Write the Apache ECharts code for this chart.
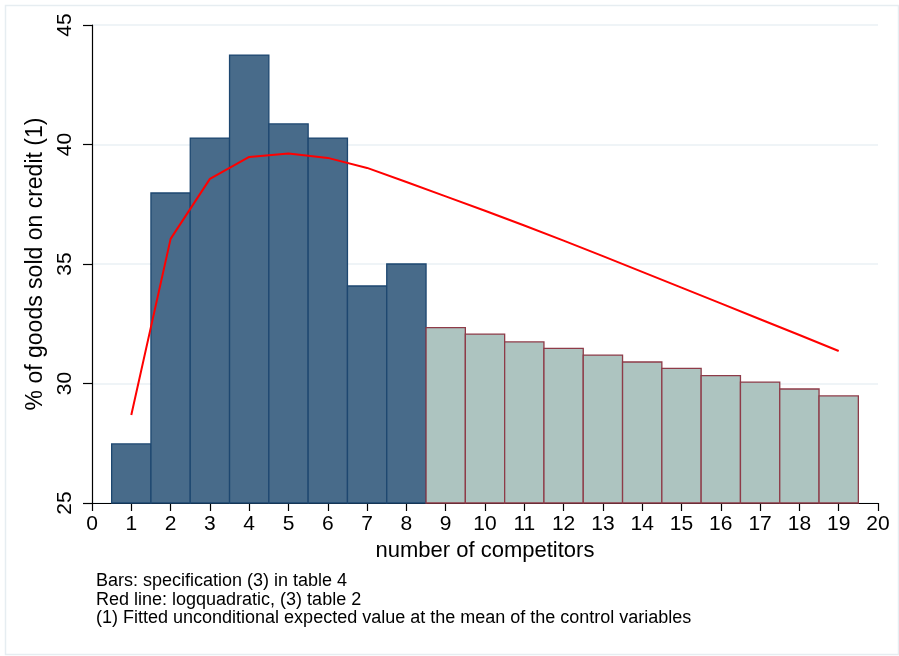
<!DOCTYPE html>
<html>
<head>
<meta charset="utf-8">
<script src="https://cdn.jsdelivr.net/npm/echarts@6/dist/echarts.min.js"></script>
<style>html,body{margin:0;padding:0;background:#fff}#c{width:899px;height:656px}</style>
</head>
<body>
<div id="c"></div>
<script>
var competitors = [1,2,3,4,5,6,7,8,9,10,11,12,13,14,15,16,17,18,19];
var barValues = [27.47,37.97,40.27,43.74,40.86,40.27,34.08,35.0,32.34,32.07,31.74,31.47,31.19,30.90,30.63,30.33,30.06,29.77,29.48];
var fittedLine = [28.68,36.05,38.56,39.48,39.62,39.44,39.02,38.43,37.83,37.23,36.61,35.98,35.33,34.67,34.01,33.35,32.69,32.03,31.36];
var darkUpTo = 8;
var yTicks = [25,30,35,40,45];
var notes = [
  'Bars: specification (3) in table 4',
  'Red line: logquadratic, (3) table 2',
  '(1) Fitted unconditional expected value at the mean of the control variables'
];

var barData = competitors.map(function(c,i){return [c, barValues[i]];});
var lineData = competitors.map(function(c,i){return [c, fittedLine[i]];});
var FONT = 'Liberation Sans, Arial, Helvetica, sans-serif';

var chart = echarts.init(document.getElementById('c'), null, {renderer:'canvas'});
chart.setOption({
  animation:false,
  backgroundColor:'#ffffff',
  grid:{left:92,right:21,top:25,bottom:153,containLabel:false},
  xAxis:{
    type:'value',min:0,max:20,interval:1,
    name:'number of competitors',nameLocation:'middle',nameGap:37,
    nameTextStyle:{fontFamily:FONT,fontSize:22,color:'#000'},
    axisLine:{show:true,onZero:false,lineStyle:{color:'#000',width:1.2}},
    axisTick:{show:true,length:8,lineStyle:{color:'#000',width:1.2}},
    axisLabel:{fontFamily:FONT,fontSize:21,color:'#000',margin:11},
    splitLine:{show:false}
  },
  yAxis:{
    type:'value',min:25,max:45,interval:5,
    name:'% of goods sold on credit (1)',nameLocation:'middle',nameGap:34,
    nameTextStyle:{fontFamily:FONT,fontSize:23,color:'#000'},
    axisLine:{show:true,onZero:false,lineStyle:{color:'#000',width:1.2}},
    axisTick:{show:true,length:9,lineStyle:{color:'#000',width:1.2}},
    axisLabel:{fontFamily:FONT,fontSize:21,color:'#000',rotate:90,margin:16,
      formatter:function(v){return yTicks.indexOf(v)>=0?String(v):'';}},
    splitLine:{show:true,lineStyle:{color:'#eaf0f4',width:1.5}}
  },
  series:[
    {
      type:'custom',
      data:barData,
      renderItem:function(params,api){
        var x = api.value(0), y = api.value(1);
        var p0 = api.coord([x-0.5, y]);
        var p1 = api.coord([x+0.5, 25]);
        var dark = x <= darkUpTo;
        return {
          type:'rect',
          shape:{x:p0[0],y:p0[1],width:p1[0]-p0[0],height:p1[1]-p0[1]},
          style:{fill:dark?'#486b8a':'#adc4c0',stroke:dark?'#1d4770':'#8e3b48',lineWidth:1.3}
        };
      },
      z:2
    },
    {
      type:'line',
      data:lineData,
      symbol:'none',
      lineStyle:{color:'#ff0000',width:2},
      z:3
    }
  ],
  graphic:[
    {type:'rect',left:3,top:3,shape:{width:893,height:649},style:{fill:'none',stroke:'#e6edf1',lineWidth:1.5},z:-1},
    {type:'text',left:96,top:572,style:{text:notes.join('\n'),font:'18px '+FONT,lineHeight:18.5,fill:'#000'}}
  ]
});
</script>
</body>
</html>
